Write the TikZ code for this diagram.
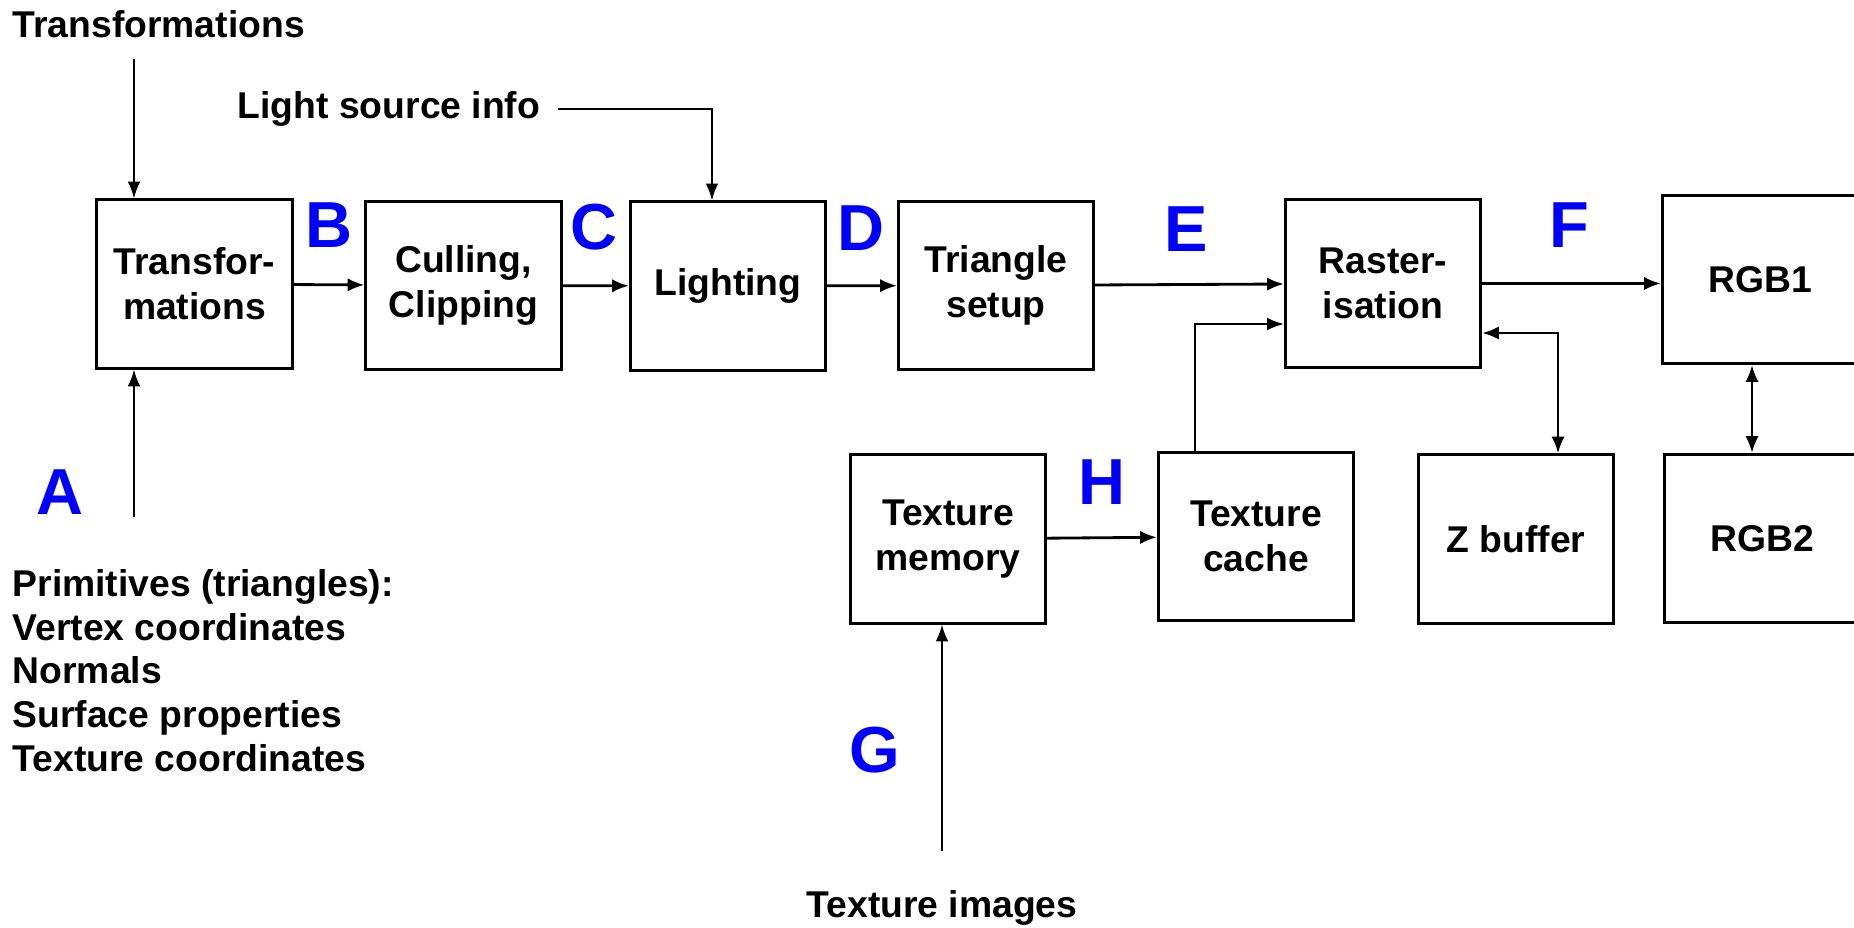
\documentclass[tikz,border=0pt]{standalone}
\usepackage{fontspec}
\setmainfont{Liberation Sans}
\usetikzlibrary{arrows.meta,calc}
\newcommand{\letterCol}{blue}

\begin{document}
\begin{tikzpicture}[x=0.01cm,y=-0.01cm,
		font=\bfseries\fontsize{10.6}{12.8}\selectfont,
		stage/.style={draw,line width=0.85pt,minimum width=1.95cm,minimum height=1.68cm,align=center,inner sep=0pt},
		flow/.style={line width=0.8pt,-{Latex[length=4.8pt,width=3.8pt]}},
		feed/.style={line width=0.5pt,-{Latex[length=4.8pt,width=3.6pt]}},
		tag/.style={text=\letterCol,inner sep=0pt,font=\bfseries\fontsize{18.5}{21}\selectfont}]
	\useasboundingbox (0,0) rectangle (1854,928);
	% top row of the pipeline
	\node[stage] (trans) at (194.5,284) {Transfor-\\mations};
	\node[stage] (cull) at (463.5,285.5) {Culling,\\Clipping};
	\node[stage] (light) at (728,286) {Lighting};
	\node[stage] (tri) at (996,285.5) {Triangle\\setup};
	\node[stage] (rast) at (1383,283.5) {Raster-\\isation};
	\node[stage] (rgb1) at (1760,279.5) {RGB1};
	% bottom row
	\node[stage] (texmem) at (948,539) {Texture\\memory};
	\node[stage] (texcache) at (1256,536.5) {Texture\\cache};
	\node[stage] (zbuf) at (1516,539) {Z buffer};
	\node[stage] (rgb2) at (1762,538.5) {RGB2};
	% inputs
	\node[anchor=west,inner sep=0pt] (translbl) at (12,24) {Transformations};
	\node[inner sep=0pt] (lsi) at (389,109) {Light source info};
	\node[anchor=west,inner sep=0pt,align=left,font=\bfseries\fontsize{10.6}{12.4}\selectfont] (prims) at (12,670.5) {Primitives (triangles):\\Vertex coordinates\\Normals\\Surface properties\\Texture coordinates};
	\node[inner sep=0pt] (teximg) at (942,908) {Texture images};
	\coordinate (tintop) at (134,59);
	\coordinate (tinbot) at (134,517);
	\coordinate (gbot) at (942,851);
	% stage letters
	\node[tag] (A) at (60,492) {A};
	\node[tag] (B) at (329,225) {B};
	\node[tag] (C) at (594,227) {C};
	\node[tag] (D) at (861,228) {D};
	\node[tag] (E) at (1186,229) {E};
	\node[tag] (F) at (1569,225) {F};
	\node[tag] (G) at (875,750) {G};
	\node[tag] (H) at (1102,482) {H};
	% connectors
	\draw[feed] (tintop) -- (tintop |- trans.north);
	\draw[feed] (tinbot) -- (tinbot |- trans.south);
	\draw[feed,line width=0.6pt] ([xshift=0.17cm]lsi.east) -| ([xshift=-0.16cm]light.north);
	\draw[flow] (trans) -- (cull);
	\draw[flow] (cull) -- (light);
	\draw[flow] (light) -- (tri);
	\draw[flow] (tri) -- (rast);
	\draw[flow] (rast) -- (rast -| rgb1.west);
	\draw[flow] (texmem) -- (texcache);
	\draw[feed] ([xshift=-0.61cm]texcache.north) |- ([yshift=-0.405cm]rast.west);
	\draw[flow,{Latex[length=4.8pt,width=3.8pt]}-{Latex[length=4.8pt,width=3.8pt]}] ([yshift=-0.495cm]rast.east) -| ([xshift=0.42cm]zbuf.north);
	\draw[flow,{Latex[length=4.8pt,width=3.8pt]}-{Latex[length=4.8pt,width=3.8pt]}] ([xshift=-0.08cm]rgb1.south) -- ([xshift=-0.08cm]rgb1.south |- rgb2.north);
	\draw[feed] (gbot) -- (gbot |- texmem.south);
\end{tikzpicture}
\end{document}
